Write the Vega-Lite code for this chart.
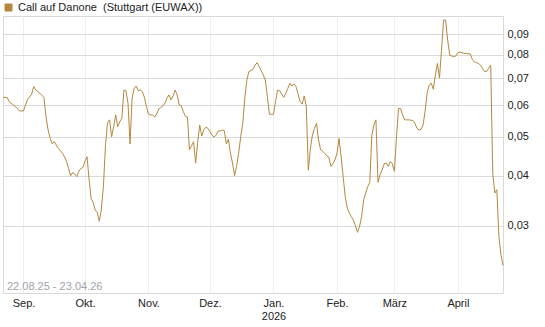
{
  "$schema": "https://vega.github.io/schema/vega-lite/v6.json",
  "width": 500,
  "height": 277,
  "autosize": "none",
  "padding": {"left": 3, "top": 16, "right": 42, "bottom": 34},
  "background": "white",
  "config": {
    "view": {"stroke": "#d9d9d9", "strokeWidth": 1},
    "font": "Liberation Sans"
  },
  "datasets": {
    "kurs": [
      {"datum": "2025-08-22", "kurs": 0.0627},
      {"datum": "2025-08-24", "kurs": 0.0627},
      {"datum": "2025-08-25", "kurs": 0.0612},
      {"datum": "2025-08-27", "kurs": 0.0600},
      {"datum": "2025-08-29", "kurs": 0.0589},
      {"datum": "2025-08-30", "kurs": 0.0580},
      {"datum": "2025-09-01", "kurs": 0.0580},
      {"datum": "2025-09-02", "kurs": 0.0600},
      {"datum": "2025-09-03", "kurs": 0.0620},
      {"datum": "2025-09-05", "kurs": 0.0639},
      {"datum": "2025-09-06", "kurs": 0.0667},
      {"datum": "2025-09-07", "kurs": 0.0654},
      {"datum": "2025-09-09", "kurs": 0.0642},
      {"datum": "2025-09-11", "kurs": 0.0627},
      {"datum": "2025-09-12", "kurs": 0.0560},
      {"datum": "2025-09-13", "kurs": 0.0520},
      {"datum": "2025-09-14", "kurs": 0.0496},
      {"datum": "2025-09-15", "kurs": 0.0480},
      {"datum": "2025-09-16", "kurs": 0.0486},
      {"datum": "2025-09-18", "kurs": 0.0468},
      {"datum": "2025-09-20", "kurs": 0.0455},
      {"datum": "2025-09-21", "kurs": 0.0446},
      {"datum": "2025-09-22", "kurs": 0.0434},
      {"datum": "2025-09-23", "kurs": 0.0417},
      {"datum": "2025-09-24", "kurs": 0.0400},
      {"datum": "2025-09-25", "kurs": 0.0407},
      {"datum": "2025-09-26", "kurs": 0.0404},
      {"datum": "2025-09-27", "kurs": 0.0398},
      {"datum": "2025-09-28", "kurs": 0.0410},
      {"datum": "2025-09-29", "kurs": 0.0417},
      {"datum": "2025-09-30", "kurs": 0.0419},
      {"datum": "2025-10-01", "kurs": 0.0434},
      {"datum": "2025-10-02", "kurs": 0.0446},
      {"datum": "2025-10-03", "kurs": 0.0392},
      {"datum": "2025-10-04", "kurs": 0.0351},
      {"datum": "2025-10-05", "kurs": 0.0343},
      {"datum": "2025-10-06", "kurs": 0.0328},
      {"datum": "2025-10-07", "kurs": 0.0324},
      {"datum": "2025-10-08", "kurs": 0.0308},
      {"datum": "2025-10-09", "kurs": 0.0330},
      {"datum": "2025-10-10", "kurs": 0.0376},
      {"datum": "2025-10-11", "kurs": 0.0475},
      {"datum": "2025-10-12", "kurs": 0.0542},
      {"datum": "2025-10-13", "kurs": 0.0551},
      {"datum": "2025-10-14", "kurs": 0.0500},
      {"datum": "2025-10-15", "kurs": 0.0530},
      {"datum": "2025-10-16", "kurs": 0.0567},
      {"datum": "2025-10-17", "kurs": 0.0530},
      {"datum": "2025-10-18", "kurs": 0.0545},
      {"datum": "2025-10-19", "kurs": 0.0556},
      {"datum": "2025-10-20", "kurs": 0.0654},
      {"datum": "2025-10-21", "kurs": 0.0651},
      {"datum": "2025-10-22", "kurs": 0.0606},
      {"datum": "2025-10-23", "kurs": 0.0480},
      {"datum": "2025-10-24", "kurs": 0.0624},
      {"datum": "2025-10-25", "kurs": 0.0660},
      {"datum": "2025-10-26", "kurs": 0.0669},
      {"datum": "2025-10-27", "kurs": 0.0651},
      {"datum": "2025-10-28", "kurs": 0.0654},
      {"datum": "2025-10-29", "kurs": 0.0648},
      {"datum": "2025-10-30", "kurs": 0.0627},
      {"datum": "2025-10-31", "kurs": 0.0594},
      {"datum": "2025-11-01", "kurs": 0.0569},
      {"datum": "2025-11-02", "kurs": 0.0567},
      {"datum": "2025-11-03", "kurs": 0.0567},
      {"datum": "2025-11-04", "kurs": 0.0560},
      {"datum": "2025-11-05", "kurs": 0.0570},
      {"datum": "2025-11-06", "kurs": 0.0586},
      {"datum": "2025-11-08", "kurs": 0.0597},
      {"datum": "2025-11-09", "kurs": 0.0606},
      {"datum": "2025-11-10", "kurs": 0.0624},
      {"datum": "2025-11-11", "kurs": 0.0636},
      {"datum": "2025-11-12", "kurs": 0.0618},
      {"datum": "2025-11-13", "kurs": 0.0632},
      {"datum": "2025-11-14", "kurs": 0.0654},
      {"datum": "2025-11-15", "kurs": 0.0636},
      {"datum": "2025-11-16", "kurs": 0.0600},
      {"datum": "2025-11-17", "kurs": 0.0597},
      {"datum": "2025-11-18", "kurs": 0.0578},
      {"datum": "2025-11-19", "kurs": 0.0562},
      {"datum": "2025-11-20", "kurs": 0.0560},
      {"datum": "2025-11-21", "kurs": 0.0464},
      {"datum": "2025-11-22", "kurs": 0.0475},
      {"datum": "2025-11-23", "kurs": 0.0486},
      {"datum": "2025-11-24", "kurs": 0.0430},
      {"datum": "2025-11-25", "kurs": 0.0484},
      {"datum": "2025-11-26", "kurs": 0.0535},
      {"datum": "2025-11-27", "kurs": 0.0502},
      {"datum": "2025-11-28", "kurs": 0.0520},
      {"datum": "2025-11-29", "kurs": 0.0528},
      {"datum": "2025-11-30", "kurs": 0.0525},
      {"datum": "2025-12-01", "kurs": 0.0515},
      {"datum": "2025-12-02", "kurs": 0.0505},
      {"datum": "2025-12-03", "kurs": 0.0499},
      {"datum": "2025-12-04", "kurs": 0.0505},
      {"datum": "2025-12-05", "kurs": 0.0517},
      {"datum": "2025-12-06", "kurs": 0.0517},
      {"datum": "2025-12-07", "kurs": 0.0520},
      {"datum": "2025-12-08", "kurs": 0.0518},
      {"datum": "2025-12-09", "kurs": 0.0480},
      {"datum": "2025-12-10", "kurs": 0.0493},
      {"datum": "2025-12-11", "kurs": 0.0455},
      {"datum": "2025-12-12", "kurs": 0.0430},
      {"datum": "2025-12-13", "kurs": 0.0400},
      {"datum": "2025-12-14", "kurs": 0.0422},
      {"datum": "2025-12-15", "kurs": 0.0455},
      {"datum": "2025-12-16", "kurs": 0.0500},
      {"datum": "2025-12-17", "kurs": 0.0540},
      {"datum": "2025-12-18", "kurs": 0.0624},
      {"datum": "2025-12-19", "kurs": 0.0693},
      {"datum": "2025-12-20", "kurs": 0.0727},
      {"datum": "2025-12-21", "kurs": 0.0731},
      {"datum": "2025-12-22", "kurs": 0.0736},
      {"datum": "2025-12-23", "kurs": 0.0754},
      {"datum": "2025-12-24", "kurs": 0.0765},
      {"datum": "2025-12-25", "kurs": 0.0748},
      {"datum": "2025-12-26", "kurs": 0.0730},
      {"datum": "2025-12-27", "kurs": 0.0713},
      {"datum": "2025-12-28", "kurs": 0.0693},
      {"datum": "2025-12-29", "kurs": 0.0630},
      {"datum": "2025-12-30", "kurs": 0.0569},
      {"datum": "2025-12-31", "kurs": 0.0569},
      {"datum": "2026-01-01", "kurs": 0.0569},
      {"datum": "2026-01-02", "kurs": 0.0612},
      {"datum": "2026-01-03", "kurs": 0.0654},
      {"datum": "2026-01-04", "kurs": 0.0651},
      {"datum": "2026-01-05", "kurs": 0.0639},
      {"datum": "2026-01-06", "kurs": 0.0627},
      {"datum": "2026-01-07", "kurs": 0.0642},
      {"datum": "2026-01-08", "kurs": 0.0660},
      {"datum": "2026-01-09", "kurs": 0.0680},
      {"datum": "2026-01-10", "kurs": 0.0669},
      {"datum": "2026-01-11", "kurs": 0.0677},
      {"datum": "2026-01-12", "kurs": 0.0667},
      {"datum": "2026-01-13", "kurs": 0.0639},
      {"datum": "2026-01-14", "kurs": 0.0612},
      {"datum": "2026-01-15", "kurs": 0.0603},
      {"datum": "2026-01-16", "kurs": 0.0632},
      {"datum": "2026-01-17", "kurs": 0.0597},
      {"datum": "2026-01-18", "kurs": 0.0413},
      {"datum": "2026-01-19", "kurs": 0.0468},
      {"datum": "2026-01-20", "kurs": 0.0505},
      {"datum": "2026-01-21", "kurs": 0.0525},
      {"datum": "2026-01-22", "kurs": 0.0540},
      {"datum": "2026-01-23", "kurs": 0.0491},
      {"datum": "2026-01-24", "kurs": 0.0464},
      {"datum": "2026-01-25", "kurs": 0.0460},
      {"datum": "2026-01-26", "kurs": 0.0455},
      {"datum": "2026-01-27", "kurs": 0.0448},
      {"datum": "2026-01-28", "kurs": 0.0445},
      {"datum": "2026-01-29", "kurs": 0.0422},
      {"datum": "2026-01-30", "kurs": 0.0428},
      {"datum": "2026-01-31", "kurs": 0.0438},
      {"datum": "2026-02-01", "kurs": 0.0455},
      {"datum": "2026-02-02", "kurs": 0.0495},
      {"datum": "2026-02-03", "kurs": 0.0446},
      {"datum": "2026-02-04", "kurs": 0.0398},
      {"datum": "2026-02-05", "kurs": 0.0355},
      {"datum": "2026-02-06", "kurs": 0.0332},
      {"datum": "2026-02-07", "kurs": 0.0323},
      {"datum": "2026-02-08", "kurs": 0.0316},
      {"datum": "2026-02-09", "kurs": 0.0310},
      {"datum": "2026-02-10", "kurs": 0.0300},
      {"datum": "2026-02-11", "kurs": 0.0289},
      {"datum": "2026-02-12", "kurs": 0.0299},
      {"datum": "2026-02-13", "kurs": 0.0316},
      {"datum": "2026-02-14", "kurs": 0.0348},
      {"datum": "2026-02-15", "kurs": 0.0362},
      {"datum": "2026-02-16", "kurs": 0.0376},
      {"datum": "2026-02-17", "kurs": 0.0385},
      {"datum": "2026-02-18", "kurs": 0.0505},
      {"datum": "2026-02-19", "kurs": 0.0535},
      {"datum": "2026-02-20", "kurs": 0.0551},
      {"datum": "2026-02-21", "kurs": 0.0385},
      {"datum": "2026-02-22", "kurs": 0.0402},
      {"datum": "2026-02-23", "kurs": 0.0413},
      {"datum": "2026-02-24", "kurs": 0.0428},
      {"datum": "2026-02-25", "kurs": 0.0430},
      {"datum": "2026-02-26", "kurs": 0.0422},
      {"datum": "2026-02-27", "kurs": 0.0434},
      {"datum": "2026-02-28", "kurs": 0.0428},
      {"datum": "2026-03-01", "kurs": 0.0410},
      {"datum": "2026-03-02", "kurs": 0.0496},
      {"datum": "2026-03-03", "kurs": 0.0588},
      {"datum": "2026-03-04", "kurs": 0.0588},
      {"datum": "2026-03-05", "kurs": 0.0567},
      {"datum": "2026-03-06", "kurs": 0.0551},
      {"datum": "2026-03-08", "kurs": 0.0551},
      {"datum": "2026-03-10", "kurs": 0.0549},
      {"datum": "2026-03-11", "kurs": 0.0541},
      {"datum": "2026-03-12", "kurs": 0.0525},
      {"datum": "2026-03-13", "kurs": 0.0520},
      {"datum": "2026-03-14", "kurs": 0.0522},
      {"datum": "2026-03-15", "kurs": 0.0535},
      {"datum": "2026-03-16", "kurs": 0.0580},
      {"datum": "2026-03-17", "kurs": 0.0644},
      {"datum": "2026-03-18", "kurs": 0.0673},
      {"datum": "2026-03-19", "kurs": 0.0680},
      {"datum": "2026-03-20", "kurs": 0.0657},
      {"datum": "2026-03-21", "kurs": 0.0713},
      {"datum": "2026-03-22", "kurs": 0.0762},
      {"datum": "2026-03-23", "kurs": 0.0700},
      {"datum": "2026-03-24", "kurs": 0.0822},
      {"datum": "2026-03-25", "kurs": 0.0977},
      {"datum": "2026-03-26", "kurs": 0.0977},
      {"datum": "2026-03-27", "kurs": 0.0871},
      {"datum": "2026-03-28", "kurs": 0.0798},
      {"datum": "2026-03-29", "kurs": 0.0795},
      {"datum": "2026-03-30", "kurs": 0.0792},
      {"datum": "2026-03-31", "kurs": 0.0795},
      {"datum": "2026-04-01", "kurs": 0.0810},
      {"datum": "2026-04-02", "kurs": 0.0813},
      {"datum": "2026-04-03", "kurs": 0.0810},
      {"datum": "2026-04-04", "kurs": 0.0807},
      {"datum": "2026-04-05", "kurs": 0.0807},
      {"datum": "2026-04-07", "kurs": 0.0804},
      {"datum": "2026-04-08", "kurs": 0.0780},
      {"datum": "2026-04-09", "kurs": 0.0769},
      {"datum": "2026-04-10", "kurs": 0.0765},
      {"datum": "2026-04-11", "kurs": 0.0762},
      {"datum": "2026-04-12", "kurs": 0.0754},
      {"datum": "2026-04-13", "kurs": 0.0741},
      {"datum": "2026-04-14", "kurs": 0.0727},
      {"datum": "2026-04-15", "kurs": 0.0727},
      {"datum": "2026-04-16", "kurs": 0.0741},
      {"datum": "2026-04-17", "kurs": 0.0754},
      {"datum": "2026-04-18", "kurs": 0.0405},
      {"datum": "2026-04-19", "kurs": 0.0362},
      {"datum": "2026-04-20", "kurs": 0.0369},
      {"datum": "2026-04-21", "kurs": 0.0282},
      {"datum": "2026-04-22", "kurs": 0.0254},
      {"datum": "2026-04-23", "kurs": 0.0239}
    ]
  },
  "layer": [
    {
      "data": {"name": "kurs"},
      "transform": [{"calculate": "'Call auf Danone \u00a0(Stuttgart (EUWAX))'", "as": "serie"}],
      "mark": {"type": "line", "strokeWidth": 1, "interpolate": "linear"},
      "encoding": {
        "x": {
          "field": "datum",
          "type": "temporal",
          "scale": {
            "type": "utc",
            "domain": [
              {"year": 2025, "month": 8, "date": 22, "utc": true},
              {"year": 2026, "month": 4, "date": 23, "utc": true}
            ]
          },
          "axis": {
            "title": null,
            "values": [
              {"year": 2025, "month": 9, "date": 1, "utc": true},
              {"year": 2025, "month": 10, "date": 1, "utc": true},
              {"year": 2025, "month": 11, "date": 1, "utc": true},
              {"year": 2025, "month": 12, "date": 1, "utc": true},
              {"year": 2026, "month": 1, "date": 1, "utc": true},
              {"year": 2026, "month": 2, "date": 1, "utc": true},
              {"year": 2026, "month": 3, "date": 1, "utc": true},
              {"year": 2026, "month": 4, "date": 1, "utc": true}
            ],
            "labelExpr": "utcmonth(datum.value) == 0 ? ['Jan.', '2026'] : ['Jan.','Feb.','März','April','Mai','Juni','Juli','Aug.','Sep.','Okt.','Nov.','Dez.'][utcmonth(datum.value)]",
            "grid": true,
            "gridColor": "#eeeeee",
            "gridWidth": 1,
            "ticks": false,
            "domain": false,
            "labelPadding": 4,
            "labelFontSize": 11,
            "labelColor": "#222222",
            "labelFont": "Liberation Sans",
            "labelLineHeight": 13,
            "labelFlush": false,
            "labelOverlap": false
          }
        },
        "y": {
          "field": "kurs",
          "type": "quantitative",
          "scale": {"type": "log", "domain": [0.0204, 0.1], "nice": false, "zero": false},
          "axis": {
            "title": null,
            "orient": "right",
            "values": [0.03, 0.04, 0.05, 0.06, 0.07, 0.08, 0.09],
            "labelExpr": "replace(format(datum.value, '.2f'), '.', ',')",
            "grid": true,
            "gridColor": "#dadada",
            "gridWidth": 1,
            "ticks": false,
            "domain": false,
            "labelPadding": 4,
            "labelFontSize": 11,
            "labelColor": "#222222",
            "labelFont": "Liberation Sans"
          }
        },
        "color": {
          "field": "serie",
          "type": "nominal",
          "scale": {"range": ["#b5883d"]},
          "legend": {
            "title": null,
            "orient": "none",
            "legendX": 0,
            "legendY": -14,
            "padding": 0,
            "symbolType": "square",
            "symbolSize": 49,
            "symbolFillColor": "#b5883d",
            "symbolStrokeColor": "#6e5226",
            "symbolStrokeWidth": 1,
            "labelFontSize": 11,
            "labelColor": "#222222",
            "labelFont": "Liberation Sans",
            "labelOffset": 4,
            "labelLimit": 400
          }
        }
      }
    },
    {
      "data": {"values": [{"zeitraum": "22.08.25 - 23.04.26"}]},
      "mark": {"type": "text", "align": "left", "baseline": "alphabetic", "dx": 4, "fontSize": 11, "color": "#a0a3ad", "font": "Liberation Sans"},
      "encoding": {
        "x": {"datum": {"year": 2025, "month": 8, "date": 22, "utc": true}, "type": "temporal"},
        "y": {"datum": 0.0208, "type": "quantitative"},
        "text": {"field": "zeitraum"}
      }
    }
  ]
}
